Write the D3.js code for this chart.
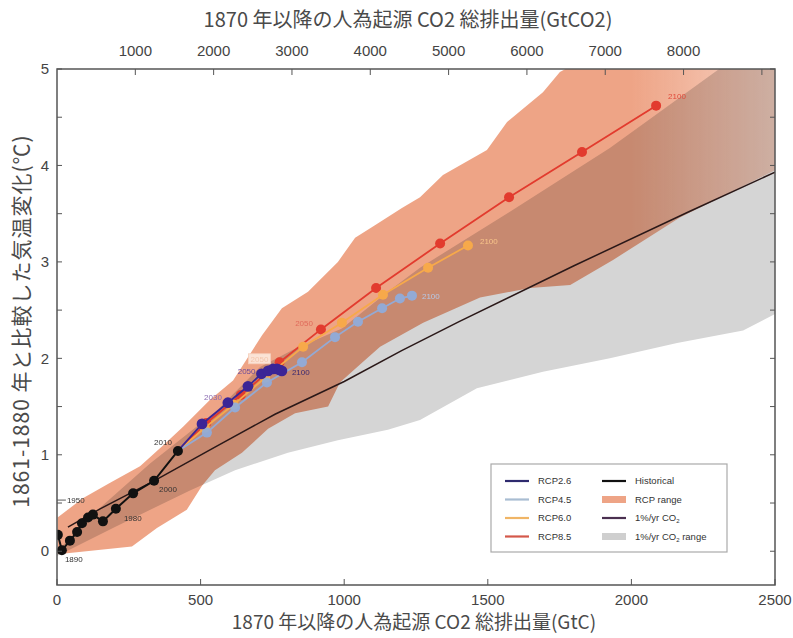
<!DOCTYPE html>
<html>
<head>
<meta charset="utf-8">
<script src="https://cdn.jsdelivr.net/npm/d3@7"></script>
<style>
  html, body { margin: 0; padding: 0; background: #fff; }
  svg { display: block; }
  .tick-label { font-family: "Liberation Sans", Arial, sans-serif; font-size: 15px; fill: #444; }
  .axis-title { font-family: "Noto Sans CJK JP", sans-serif; font-size: 20px; fill: #4a4a4a; }
  .pt-label { font-family: "Liberation Sans", Arial, sans-serif; font-size: 8px; }
  .legend-text { font-family: "Liberation Sans", Arial, sans-serif; font-size: 9.5px; fill: #333; }
</style>
</head>
<body>
<svg id="chart" width="793" height="638"></svg>
<script>
// Cumulative anthropogenic CO2 emissions since 1870 (GtC) vs. temperature change (°C)

const xTicksBottom = [0, 500, 1000, 1500, 2000, 2500];
const yTicksLabelled = [0, 1, 2, 3, 4, 5];
const topTickValues = [1000, 2000, 3000, 4000, 5000, 6000, 7000, 8000, 9000];
const topTickLabels = [1000, 2000, 3000, 4000, 5000, 6000, 7000, 8000];
const gtcToGtco2 = 3.667;

// Historical decadal means
const historical = [[3,0.17],[17,0.01],[45,0.11],[70,0.20],[87,0.29],[108,0.35],[125,0.38],[160,0.31],[205,0.44],[265,0.60],[338,0.73],[421,1.04]];
const historicalLabels = [["1890",1,3,12,"start"],["1950",6,-26,-12,"start"],["1980",8,8,12,"start"],["2000",10,5,11,"start"],["2010",11,-6,-6,"end"]];

// RCP scenarios, 2010–2100 decadal
const rcp26 = [[421,1.04],[505,1.32],[595,1.54],[665,1.71],[712,1.84],[735,1.87],[752,1.89],[766,1.89],[775,1.88],[783,1.87]];
const rcp45 = [[421,1.04],[522,1.23],[620,1.49],[731,1.75],[853,1.96],[968,2.22],[1048,2.38],[1132,2.52],[1194,2.62],[1236,2.65]];
const rcp60 = [[421,1.04],[515,1.28],[615,1.52],[725,1.80],[857,2.12],[992,2.37],[1135,2.66],[1292,2.94],[1431,3.17]];
const rcp85 = [[421,1.04],[520,1.33],[640,1.62],[775,1.96],[919,2.30],[1111,2.73],[1334,3.19],[1574,3.67],[1828,4.14],[2086,4.62]];

// 1%/yr CO2 multi-model mean
const onePct = [[38,0.25],[150,0.44],[338,0.73],[550,1.08],[759,1.42],[1000,1.76],[1200,2.08],[1400,2.38],[1800,2.96],[2200,3.52],[2500,3.93]];

// RCP range envelope
const rcpRangeUpper = [[2,0.35],[90,0.55],[185,0.71],[289,0.88],[370,1.10],[439,1.29],[533,1.57],[613,1.77],[714,2.24],[783,2.52],[874,2.69],[978,3.00],[1038,3.25],[1107,3.38],[1201,3.56],[1264,3.67],[1344,3.90],[1497,4.16],[1567,4.45],[1692,4.76],[1751,4.97],[1900,5.2],[2500,5.8]];
const rcpRangeLower = [[2,-0.03],[261,0.05],[348,0.24],[452,0.43],[505,0.68],[550,0.84],[644,1.02],[735,1.27],[829,1.43],[944,1.50],[985,1.75],[1060,1.95],[1125,2.12],[1275,2.37],[1473,2.63],[1647,2.73],[1787,2.76],[1936,3.02],[2169,3.46],[2500,3.95]];

// 1%/yr CO2 range envelope
const onePctUpper = [[0,0.0],[150,0.45],[324,0.91],[557,1.46],[707,1.91],[822,2.09],[992,2.31],[1152,2.69],[1264,2.94],[1577,3.52],[1925,4.18],[2291,4.97],[2500,5.4]];
const onePctLower = [[0,-0.05],[200,0.25],[463,0.63],[620,0.84],[804,1.02],[978,1.15],[1152,1.26],[1264,1.36],[1462,1.69],[1692,1.86],[1925,2.00],[2159,2.16],[2389,2.29],[2500,2.46]];

const legendItems = [
  {label:"RCP2.6", kind:"line", color:"#2e2a6e", col:0, row:0},
  {label:"RCP4.5", kind:"line", color:"#a9bdd2", col:0, row:1},
  {label:"RCP6.0", kind:"line", color:"#f0b566", col:0, row:2},
  {label:"RCP8.5", kind:"line", color:"#d4584a", col:0, row:3},
  {label:"Historical", kind:"line", color:"#111", col:1, row:0},
  {label:"RCP range", kind:"band", color:"#eea486", col:1, row:1},
  {label:"1%/yr CO", sub:"2", kind:"line", color:"#4a3050", col:1, row:2},
  {label:"1%/yr CO", sub:"2", suffix:" range", kind:"band", color:"#cfcfcf", col:1, row:3}
];

const svg = d3.select("#chart");
const m = {left: 57, right: 775, top: 69, bottom: 585};
const x = d3.scaleLinear().domain([0, 2500]).range([m.left, m.right]);
const y = d3.scaleLinear().domain([-0.35, 5]).range([m.bottom, m.top]);
const xTop = d3.scaleLinear().domain([0, 2500 * gtcToGtco2]).range([m.left, m.right]);

const defs = svg.append("defs");
defs.append("clipPath").attr("id", "plotClip")
  .append("rect").attr("x", m.left).attr("y", m.top)
  .attr("width", m.right - m.left).attr("height", m.bottom - m.top);

// RCP plume fades where fewer models remain
const fade = defs.append("linearGradient").attr("id", "rcpFade")
  .attr("gradientUnits", "userSpaceOnUse")
  .attr("x1", x(2000)).attr("x2", x(2500)).attr("y1", 0).attr("y2", 0);
fade.append("stop").attr("offset", 0).attr("stop-color", "#eea486").attr("stop-opacity", 1);
fade.append("stop").attr("offset", 1).attr("stop-color", "#eea486").attr("stop-opacity", 0.5);

const plot = svg.append("g").attr("clip-path", "url(#plotClip)");

const band = (upper, lower) => {
  const pts = upper.concat(lower.slice().reverse());
  return d3.line().x(d => x(d[0])).y(d => y(d[1]))(pts) + "Z";
};

plot.append("path").attr("d", band(onePctUpper, onePctLower)).attr("fill", "#d5d5d5");
plot.append("path").attr("d", band(rcpRangeUpper, rcpRangeLower))
  .attr("fill", "url(#rcpFade)").style("mix-blend-mode", "multiply");

const line = d3.line().x(d => x(d[0])).y(d => y(d[1]));

plot.append("path").attr("d", line(onePct)).attr("fill", "none")
  .attr("stroke", "#2a1818").attr("stroke-width", 1.5);

function series(data, color, r, width, opacity) {
  const g = plot.append("g").attr("opacity", opacity);
  g.append("path").attr("d", line(data)).attr("fill", "none")
    .attr("stroke", color).attr("stroke-width", width);
  g.selectAll("circle").data(data.slice(1)).join("circle")
    .attr("cx", d => x(d[0])).attr("cy", d => y(d[1])).attr("r", r).attr("fill", color);
}
series(rcp85, "#e23b2e", 5, 1.8, 1);
series(rcp60, "#f7a94a", 5, 1.8, 1);
series(rcp45, "#8eaee0", 5, 1.8, 0.9);
series(rcp26, "#3b2596", 5.4, 1.8, 1);

// historical
plot.append("path").attr("d", line(historical)).attr("fill", "none")
  .attr("stroke", "#111").attr("stroke-width", 2);
plot.selectAll("circle.hist").data(historical).join("circle").attr("class", "hist")
  .attr("cx", d => x(d[0])).attr("cy", d => y(d[1])).attr("r", 5).attr("fill", "#111");

// year labels
const lbl = plot.append("g");
historicalLabels.forEach(([t, i, dx, dy, anchor]) => {
  const p = historical[i];
  lbl.append("text").attr("class", "pt-label")
    .attr("x", x(p[0]) + dx).attr("y", y(p[1]) + dy).attr("text-anchor", anchor)
    .attr("fill", "#333").text(t);
});
{
  const p = historical[6];
  lbl.append("line").attr("x1", x(0)).attr("x2", x(p[0]) - 27)
    .attr("y1", y(p[1]) - 14.5).attr("y2", y(p[1]) - 14.5).attr("stroke", "#333").attr("stroke-width", 0.8);
}
function yearLabel(series, i, text, dx, dy, color, anchor) {
  const p = series[i];
  return lbl.append("text").attr("class", "pt-label")
    .attr("x", x(p[0]) + dx).attr("y", y(p[1]) + dy)
    .attr("text-anchor", anchor || "start").attr("fill", color).text(text);
}
yearLabel(rcp85, 9, "2100", 12, -7, "#e04a3a");
yearLabel(rcp85, 4, "2050", -8, -3, "#e06a5a", "end");
yearLabel(rcp60, 8, "2100", 12, -2, "#f9c58a");
yearLabel(rcp45, 9, "2100", 10, 3, "#b6c8e6");
yearLabel(rcp26, 9, "2100", 10, 4, "#3b2a70");
yearLabel(rcp26, 4, "2050", -6, 0, "#6a4a9a", "end");
yearLabel(rcp26, 2, "2030", -6, -3, "#8a6ab0", "end");
{
  const p = rcp26[4];
  const bx = x(p[0]) - 13, by = y(p[1]) - 20;
  lbl.append("rect").attr("x", bx).attr("y", by).attr("width", 22).attr("height", 10)
    .attr("fill", "#fbe3d6").attr("stroke", "#f6d0bd").attr("stroke-width", 0.8);
  lbl.append("text").attr("class", "pt-label").attr("x", bx + 11).attr("y", by + 8)
    .attr("text-anchor", "middle").attr("fill", "#f3c6ad").text("2050");
}

// frame
svg.append("rect").attr("x", m.left).attr("y", m.top)
  .attr("width", m.right - m.left).attr("height", m.bottom - m.top)
  .attr("fill", "none").attr("stroke", "#555").attr("stroke-width", 1.5);

// ticks
const tickColor = "#555";
const yMinor = d3.range(0, 5.01, 0.5);
svg.append("g").selectAll("line").data(yMinor).join("line")
  .attr("x1", m.left).attr("x2", m.left + 5).attr("y1", d => y(d)).attr("y2", d => y(d))
  .attr("stroke", tickColor);
svg.append("g").selectAll("line").data(yMinor).join("line")
  .attr("x1", m.right).attr("x2", m.right - 5).attr("y1", d => y(d)).attr("y2", d => y(d))
  .attr("stroke", tickColor);
svg.append("g").selectAll("line").data(xTicksBottom).join("line")
  .attr("x1", d => x(d)).attr("x2", d => x(d)).attr("y1", m.bottom).attr("y2", m.bottom - 6)
  .attr("stroke", tickColor);
svg.append("g").selectAll("line").data(topTickValues).join("line")
  .attr("x1", d => xTop(d)).attr("x2", d => xTop(d)).attr("y1", m.top).attr("y2", m.top + 6)
  .attr("stroke", tickColor);

// tick labels
svg.append("g").selectAll("text").data(yTicksLabelled).join("text").attr("class", "tick-label")
  .attr("x", m.left - 8).attr("y", d => y(d)).attr("dy", "0.35em").attr("text-anchor", "end")
  .text(d => d);
svg.append("g").selectAll("text").data(xTicksBottom).join("text").attr("class", "tick-label")
  .attr("x", d => x(d)).attr("y", m.bottom + 20).attr("text-anchor", "middle").text(d => d);
svg.append("g").selectAll("text").data(topTickLabels).join("text").attr("class", "tick-label")
  .attr("x", d => xTop(d)).attr("y", m.top - 13).attr("text-anchor", "middle").text(d => d);

// axis titles
const cx = (m.left + m.right) / 2;
svg.append("text").attr("class", "axis-title").attr("x", cx - 8).attr("y", 27)
  .attr("text-anchor", "middle").text("1870 年以降の人為起源 CO2 総排出量(GtCO2)");
svg.append("text").attr("class", "axis-title").attr("x", cx - 2).attr("y", 629)
  .attr("text-anchor", "middle").style("font-size", "19px")
  .text("1870 年以降の人為起源 CO2 総排出量(GtC)");
svg.append("text").attr("class", "axis-title")
  .attr("transform", `translate(29,${(m.top + m.bottom) / 2 - 6}) rotate(-90)`)
  .attr("text-anchor", "middle").style("font-size", "21px").style("letter-spacing", "1px")
  .text("1861-1880 年と比較した気温変化(℃)");

// legend
const L = {x: 491, y: 464, w: 236, h: 88};
const lg = svg.append("g");
lg.append("rect").attr("x", L.x).attr("y", L.y).attr("width", L.w).attr("height", L.h)
  .attr("fill", "#fff").attr("stroke", "#aaa").attr("stroke-width", 1.2);
const colX = [L.x + 14, L.x + 111];
legendItems.forEach(it => {
  const lx = colX[it.col], ly = L.y + 17 + it.row * 18.5;
  if (it.kind === "line") {
    lg.append("line").attr("x1", lx).attr("x2", lx + 24).attr("y1", ly).attr("y2", ly)
      .attr("stroke", it.color).attr("stroke-width", 2.2);
  } else {
    lg.append("rect").attr("x", lx).attr("y", ly - 3.5).attr("width", 24).attr("height", 7)
      .attr("fill", it.color);
  }
  const t = lg.append("text").attr("class", "legend-text").attr("x", lx + 33).attr("y", ly + 3.4);
  t.append("tspan").text(it.label);
  if (it.sub) t.append("tspan").attr("font-size", "6px").attr("dy", 2).text(it.sub);
  if (it.suffix) t.append("tspan").attr("dy", -2).text(it.suffix);
});
</script>
</body>
</html>
